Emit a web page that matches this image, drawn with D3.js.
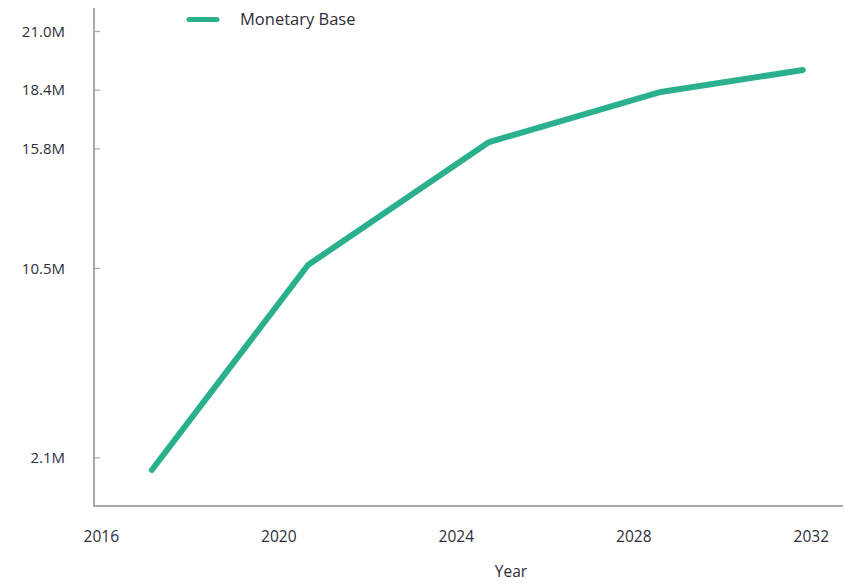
<!DOCTYPE html>
<html><head><meta charset="utf-8">
<script src="https://cdn.jsdelivr.net/npm/d3@7"></script>
<style>
html,body{margin:0;padding:0;background:#fff;}
text{font-family:"Open Sans",sans-serif;font-weight:500;}
</style></head>
<body><svg id="c" width="845" height="583"></svg>
<script>
const years = [2017.15, 2020.67, 2024.75, 2028.62, 2031.82];
const monetaryBase = [1.54, 10.63, 16.08, 18.3, 19.27];
const seriesName = "Monetary Base";
const yTickValues = [2.1, 10.5, 15.8, 18.4, 21.0];
const yTickLabels = ["2.1M", "10.5M", "15.8M", "18.4M", "21.0M"];
const xTickValues = [2016, 2020, 2024, 2028, 2032];
const xTitle = "Year";

const svg = d3.select("#c");
const x = d3.scaleLinear().domain([2016, 2032]).range([100.8, 810.8]);
const y = d3.scaleLinear().domain([0, 22]).range([504.7, 8.5]);
const axisColor = "#a9a9a9";
const textColor = "#2e2e3a";
const lineColor = "#2bb08e";

svg.append("line").attr("x1", 94).attr("x2", 94).attr("y1", 8).attr("y2", 506)
  .attr("stroke", axisColor).attr("stroke-width", 2);
svg.append("line").attr("x1", 93).attr("x2", 843).attr("y1", 506).attr("y2", 506)
  .attr("stroke", axisColor).attr("stroke-width", 2);

const yAxis = d3.axisRight(y).tickValues(yTickValues)
  .tickFormat((d, i) => yTickLabels[i]).tickSize(6).tickPadding(0);
const yg = svg.append("g").attr("transform", "translate(94,0)").call(yAxis);
yg.select(".domain").remove();
yg.selectAll(".tick line").attr("stroke", axisColor).attr("stroke-width", 1.2);
yg.selectAll(".tick text").attr("x", -29).attr("text-anchor", "end")
  .attr("fill", textColor).style("font-size", "15px").style("font-family", "'Open Sans',sans-serif")
  .attr("dy", "0.35em");

const xAxis = d3.axisBottom(x).tickValues(xTickValues).tickFormat(d3.format("d")).tickSize(0).tickPadding(0);
const xg = svg.append("g").attr("transform", "translate(0,506)").call(xAxis);
xg.select(".domain").remove();
xg.selectAll(".tick text").attr("y", 31).attr("dy", "0.35em")
  .attr("fill", textColor).style("font-size", "15.5px").style("font-family", "'Open Sans',sans-serif");

svg.append("text").attr("x", 511).attr("y", 572).attr("dy", "0.35em").attr("text-anchor", "middle")
  .attr("fill", textColor).style("font-size", "15.5px").text(xTitle);

const data = years.map((yr, i) => ({yr, v: monetaryBase[i]}));
svg.append("path").datum(data)
  .attr("fill", "none").attr("stroke", lineColor).attr("stroke-width", 6)
  .attr("stroke-linejoin", "round").attr("stroke-linecap", "round")
  .attr("d", d3.line().x(d => x(d.yr)).y(d => y(d.v)));

svg.append("line").attr("x1", 189).attr("x2", 217).attr("y1", 19.5).attr("y2", 19.5)
  .attr("stroke", lineColor).attr("stroke-width", 5).attr("stroke-linecap", "round");
svg.append("text").attr("x", 240).attr("y", 19).attr("dy", "0.35em")
  .attr("fill", textColor).style("font-size", "16.5px").text(seriesName);
</script>
</body></html>
